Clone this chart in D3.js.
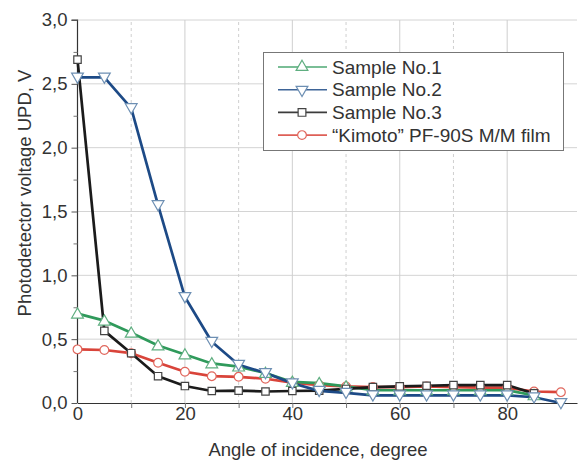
<!DOCTYPE html>
<html><head><meta charset="utf-8">
<script src="https://cdn.jsdelivr.net/npm/d3@7"></script>
<style>body{margin:0;background:#fff}svg{display:block;font-family:"Liberation Sans",Arial,sans-serif}</style>
</head><body>
<svg id="c" width="583" height="463"></svg>
<script>
const angles = [0,5,10,15,20,25,30,35,40,45,50,55,60,65,70,75,80,85,90];
const sample1 = [0.70,0.645,0.55,0.45,0.38,0.31,0.285,0.235,0.165,0.155,0.13,0.10,0.10,0.10,0.10,0.10,0.10,0.06,null];
const sample2 = [2.55,2.55,2.31,1.55,0.83,0.48,0.30,0.235,0.155,0.095,0.08,0.06,0.06,0.06,0.06,0.06,0.06,0.045,0.0];
const sample3 = [2.69,0.565,0.39,0.21,0.133,0.094,0.097,0.09,0.094,0.097,0.11,0.125,0.13,0.135,0.14,0.14,0.14,0.075,null];
const kimoto  = [0.42,0.415,0.39,0.315,0.245,0.21,0.205,0.19,0.16,0.14,0.13,0.125,0.125,0.13,0.125,0.12,0.12,0.09,0.085];
const seriesNames = ["Sample No.1","Sample No.2","Sample No.3","\u201CKimoto\u201D PF-90S M/M film"];
const yTicks = [0,0.5,1.0,1.5,2.0,2.5,3.0];
const xTicks = [0,20,40,60,80];

const svg = d3.select("#c");
const x = d3.scaleLinear().domain([0,93]).range([77.5,577]);
const y = d3.scaleLinear().domain([0,3]).range([403,20]);
const fmt = d => d3.format(".1f")(d).replace(".",",");
const FS = 18.5;

// grid
const g = svg.append("g");
g.selectAll(".hg").data(yTicks.slice(1)).join("line")
  .attr("x1",x(0)).attr("x2",x(93)).attr("y1",d=>y(d)).attr("y2",d=>y(d))
  .attr("stroke","#d4d4d4").attr("stroke-width",1);
g.selectAll(".vg").data([10,20,30,40,50,60,70,80]).join("line")
  .attr("x1",d=>x(d)).attr("x2",d=>x(d)).attr("y1",y(0)).attr("y2",y(3))
  .attr("stroke","#cfcfcf").attr("stroke-width",1)
  .attr("stroke-dasharray",d=>d%20===0?null:"3,3");

// axes
const xAxis = d3.axisBottom(x).tickValues(xTicks).tickSize(0).tickPadding(4).tickFormat(d3.format("d"));
const xa = svg.append("g").attr("transform",`translate(0,${y(0)})`).call(xAxis);
xa.select(".domain").attr("stroke","#333").attr("stroke-width",1.2);
xa.selectAll("text").attr("font-size",FS).attr("fill","#333").attr("font-family","Liberation Sans, Arial, sans-serif");
svg.append("g").attr("transform",`translate(0,${y(0)})`)
  .call(d3.axisBottom(x).tickValues([10,20,30,40,50,60,70,80]).tickSize(5).tickFormat(""))
  .call(s=>s.select(".domain").remove()).selectAll("line").attr("stroke","#777");

const yAxis = d3.axisLeft(y).tickValues(yTicks).tickSize(6).tickPadding(4).tickFormat(fmt);
const ya = svg.append("g").attr("transform",`translate(${x(0)},0)`).call(yAxis);
ya.select(".domain").attr("stroke","#333").attr("stroke-width",1.2).attr("d",`M-6,${y(3)}H0V${y(0)}`);
ya.selectAll("line").attr("stroke","#555");
ya.selectAll("text").attr("font-size",FS).attr("fill","#333").attr("font-family","Liberation Sans, Arial, sans-serif");
svg.append("g").attr("transform",`translate(${x(0)},0)`)
  .call(d3.axisLeft(y).tickValues([0.25,0.75,1.25,1.75,2.25,2.75]).tickSize(4).tickFormat(""))
  .call(s=>s.select(".domain").remove()).selectAll("line").attr("stroke","#777");

svg.append("text").attr("x",318).attr("y",456).attr("text-anchor","middle")
  .attr("font-size",FS).attr("fill","#333").text("Angle of incidence, degree");
svg.append("text").attr("transform","translate(31,193) rotate(-90)").attr("text-anchor","middle")
  .attr("font-size",FS).attr("fill","#333").text("Photodetector voltage UPD, V");

// series
const series = [
  {name:seriesNames[0], vals:sample1, color:"#2f9a5b", mstroke:"#5fae80", sym:d3.symbolTriangle, rot:0},
  {name:seriesNames[1], vals:sample2, color:"#1d4a86", mstroke:"#6d8fb3", sym:d3.symbolTriangle, rot:180},
  {name:seriesNames[2], vals:sample3, color:"#1b1b1b", mstroke:"#444", sym:d3.symbolSquare, rot:0},
  {name:seriesNames[3], vals:kimoto, color:"#d9443a", mstroke:"#e0675d", sym:d3.symbolCircle, rot:0}
];
const line = d3.line().defined(d=>d.v!=null).x(d=>x(d.a)).y(d=>y(d.v));
const drawOrder = [3,0,2,1];
drawOrder.forEach(i=>{
  const s = series[i];
  const pts = angles.map((a,j)=>({a,v:s.vals[j]})).filter(d=>d.v!=null);
  svg.append("path").datum(pts).attr("d",line).attr("fill","none")
    .attr("stroke",s.color).attr("stroke-width",2.7).attr("stroke-linejoin","round");
});
drawOrder.forEach(i=>{
  const s = series[i];
  const pts = angles.map((a,j)=>({a,v:s.vals[j]})).filter(d=>d.v!=null);
  const size = s.sym===d3.symbolCircle?60:(s.sym===d3.symbolSquare?55:60);
  svg.append("g").selectAll("path").data(pts).join("path")
    .attr("d",d3.symbol().type(s.sym).size(size))
    .attr("transform",d=>`translate(${x(d.a)},${y(d.v)+(s.sym===d3.symbolTriangle?(s.rot?-1:1):0)}) rotate(${s.rot})`)
    .attr("fill","#fff").attr("stroke",s.mstroke).attr("stroke-width",1.2);
});

// legend
const lg = svg.append("g");
lg.append("rect").attr("x",263.5).attr("y",52.5).attr("width",300).attr("height",98)
  .attr("fill","#fff").attr("stroke","#777").attr("stroke-width",1);
series.forEach((s,i)=>{
  const yy = 67 + i*22.7;
  lg.append("line").attr("x1",278).attr("x2",327).attr("y1",yy).attr("y2",yy)
    .attr("stroke",s.color).attr("stroke-width",1.6).attr("opacity",0.85);
  lg.append("path").attr("d",d3.symbol().type(s.sym).size(60))
    .attr("transform",`translate(302,${yy}) rotate(${s.rot})`)
    .attr("fill","#fff").attr("stroke",s.mstroke).attr("stroke-width",1.2);
  lg.append("text").attr("x",332).attr("y",yy+6.5).attr("font-size",19).attr("fill","#333").text(s.name);
});
</script>
</body></html>
